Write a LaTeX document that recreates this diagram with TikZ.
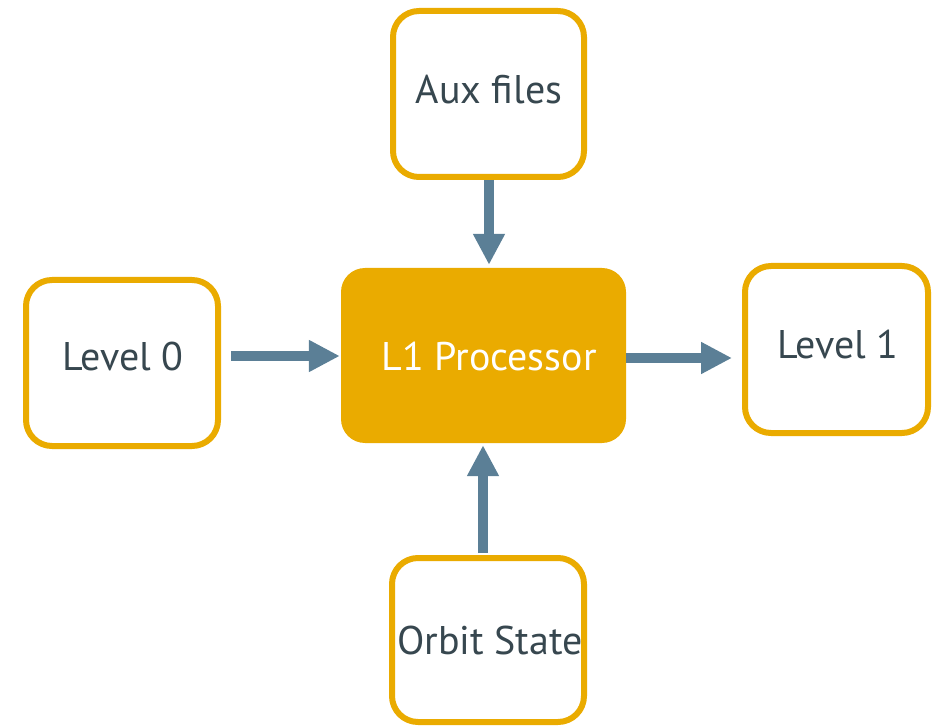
\documentclass[tikz,border=0pt]{standalone}
\usepackage{fontspec}
\setmainfont{PT Sans}
\usetikzlibrary{arrows.meta}
\definecolor{gold}{RGB}{234,171,0}
\definecolor{steel}{RGB}{91,127,150}
\definecolor{ink}{RGB}{55,71,79}
\begin{document}
\begin{tikzpicture}[x=1pt,y=-1pt,
  box/.style={draw=gold,line width=6pt,rounded corners=26pt,fill=white,inner sep=0pt},
  mainbox/.style={fill=gold,rounded corners=24pt,inner sep=0pt},
  lbl/.style={text=ink,font=\fontsize{40}{44}\selectfont,inner sep=0pt},
  arr/.style={draw=steel,line width=10pt,-{Triangle[width=30pt,length=31pt]}}]
\useasboundingbox (0,0) rectangle (935,727);
\node[box,minimum width=191pt,minimum height=166pt] (aux) at (488.5,94) {};
\node[lbl] (tx1) at (489,90) {Aux files};
\node[mainbox,minimum width=285pt,minimum height=175pt] (l1) at (483.5,355.5) {};
\node[lbl,text=white] (tx2) at (489,357) {L1 Processor};
\node[box,minimum width=192pt,minimum height=166pt] (lv0) at (122,363) {};
\node[lbl] (tx3) at (123,357) {Level 0};
\node[box,minimum width=183pt,minimum height=167pt] (lv1) at (836.5,349.5) {};
\node[lbl] (tx4) at (838,345) {Level 1};
\node[box,minimum width=192pt,minimum height=164pt] (orb) at (488,640) {};
\node[lbl] (tx5) at (490,640) {Orbit State};
\draw[arr,shorten >=3pt] (aux.south -| 489,0) -- (l1.north -| 489,0);
\draw[arr,shorten <=10pt,shorten >=1pt] (lv0.east |- 0,356) -- (l1.west |- 0,356);
\draw[arr,shorten >=10pt] (l1.east |- 0,358) -- (lv1.west |- 0,358);
\draw[arr,shorten <=2pt,shorten >=2pt] (orb.north -| 483,0) -- (l1.south -| 483,0);
\end{tikzpicture}
\end{document}
